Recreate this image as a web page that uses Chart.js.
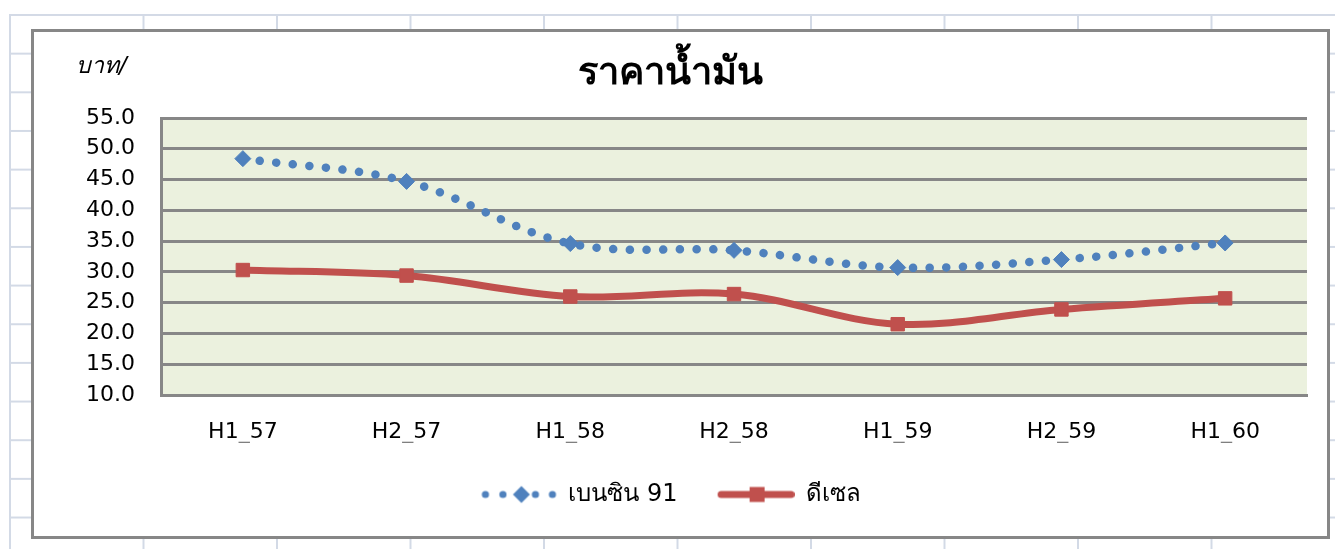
<!DOCTYPE html>
<html><head><meta charset="utf-8">
<script src="https://cdn.jsdelivr.net/npm/chart.js@4.4.1/dist/chart.umd.min.js"></script>
<style>
html,body{margin:0;padding:0;background:#fff;width:1335px;height:549px;overflow:hidden;}
#sheet{position:absolute;left:9px;top:14px;right:0;bottom:0;
background-image:linear-gradient(to right,#d3dae6 0,#d3dae6 2px,transparent 2px),linear-gradient(to bottom,#d3dae6 0,#d3dae6 2px,transparent 2px);
background-size:133.5px 100%,100% 38.67px;}
#box{position:absolute;left:31px;top:29px;width:1299px;height:510px;box-sizing:border-box;border:3px solid #878787;background:#fff;}
canvas{display:block;}
</style></head><body>
<div id="sheet"></div>
<div id="box"><canvas id="c" width="1293" height="504"></canvas></div>
<script>
const categories = ['H1_57','H2_57','H1_58','H2_58','H1_59','H2_59','H1_60'];
const benzin91 = [48.4, 44.7, 34.6, 33.5, 30.7, 32.0, 34.7];
const diesel = [30.3, 29.4, 26.0, 26.4, 21.5, 23.9, 25.7];
const seriesNames = ['เบนซิน 91', 'ดีเซล'];
const chartTitle = 'ราคาน้ำมัน';
const yAxisTitle = 'บาท/';
const yMin = 10, yMax = 55, yStep = 5;

const FONT = 'Tahoma, "DejaVu Sans", sans-serif';
const BENZ = '#4F81BD', DIES = '#C0504D', GRID = '#878787';

function makeSample(kind){
  const c = document.createElement('canvas'); c.width = 78; c.height = 20;
  const g = c.getContext('2d');
  if (kind === 0) {
    g.fillStyle = BENZ;
    [6, 23.5, 56, 73].forEach(x => { g.beginPath(); g.arc(x, 10, 3.6, 0, Math.PI*2); g.fill(); });
    g.beginPath(); g.moveTo(42, 1.5); g.lineTo(50.5, 10); g.lineTo(42, 18.5); g.lineTo(33.5, 10); g.closePath(); g.fill();
  } else {
    g.strokeStyle = DIES; g.lineWidth = 7; g.lineCap = 'round';
    g.beginPath(); g.moveTo(4.5, 10); g.lineTo(74.5, 10); g.stroke();
    g.fillStyle = DIES; g.fillRect(33, 2.5, 15, 15);
  }
  return c;
}
const samples = [makeSample(0), makeSample(1)];

const bgPlugin = {
  id: 'plotBg',
  beforeDraw(chart) {
    const {ctx, chartArea: a} = chart;
    ctx.save(); ctx.fillStyle = '#EBF1DE';
    ctx.fillRect(a.left, a.top, a.right - a.left, a.bottom - a.top);
    ctx.restore();
  },
  afterDraw(chart) {
    const ctx = chart.ctx;
    ctx.save();
    ctx.font = 'italic 23px ' + FONT;
    ctx.fillStyle = '#000'; ctx.textAlign = 'left'; ctx.textBaseline = 'middle';
    ctx.fillText(yAxisTitle, 42, 35);
    ctx.restore();
  }
};

new Chart(document.getElementById('c'), {
  type: 'line',
  data: {
    labels: categories,
    datasets: [
      { label: seriesNames[0], data: benzin91, borderColor: BENZ, backgroundColor: BENZ,
        borderWidth: 8.5, borderDash: [0.1, 16.6], borderCapStyle: 'round', tension: 0.35,
        pointStyle: 'rectRot', pointRadius: 8, pointBorderWidth: 1, pointBackgroundColor: BENZ, pointBorderColor: BENZ },
      { label: seriesNames[1], data: diesel, borderColor: DIES, backgroundColor: DIES,
        borderWidth: 7, tension: 0.35, borderCapStyle: 'round',
        pointStyle: 'rect', pointRadius: 9.5, pointBorderWidth: 1, pointBackgroundColor: DIES, pointBorderColor: DIES }
    ]
  },
  options: {
    responsive: false, animation: false,
    layout: { padding: { left: 0, right: 20, top: 0, bottom: 19.5 } },
    plugins: {
      tooltip: { enabled: false },
      title: { display: true, text: chartTitle, color: '#000',
        font: { family: FONT, size: 38, weight: 'bold', lineHeight: 1.2 },
        padding: { top: 19, bottom: 21.4 } },
      legend: { position: 'bottom',
        labels: { usePointStyle: true, pointStyleWidth: 76, padding: 40, color: '#000',
          font: { family: FONT, size: 24 },
          generateLabels: (chart) => chart.data.datasets.map((ds, i) => ({
            text: ds.label, pointStyle: samples[i], fillStyle: 'rgba(0,0,0,0)', strokeStyle: 'rgba(0,0,0,0)',
            lineWidth: 0, hidden: false, datasetIndex: i, fontColor: '#000' })) } }
    },
    scales: {
      x: { offset: true,
        grid: { display: false, drawTicks: false },
        border: { display: true, color: GRID, width: 3 },
        ticks: { color: '#000', padding: 24, font: { family: FONT, size: 22 } },
        afterFit: (s) => { s.height = 47.5; } },
      y: { min: yMin, max: yMax,
        grid: { color: GRID, lineWidth: 3, drawTicks: false },
        border: { display: true, color: GRID, width: 3 },
        ticks: { stepSize: yStep, color: '#000', padding: 26, font: { family: FONT, size: 22 },
          callback: (v) => Number(v).toFixed(1) },
        afterFit: (s) => { s.width = 127; } }
    }
  },
  plugins: [bgPlugin]
});
</script>
</body></html>
